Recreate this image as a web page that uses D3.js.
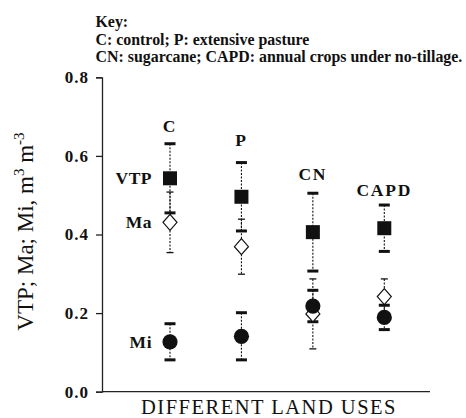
<!DOCTYPE html>
<html>
<head>
<meta charset="utf-8">
<script src="https://cdn.jsdelivr.net/npm/d3@7/dist/d3.min.js"></script>
<style>
  html, body { margin: 0; padding: 0; background: #fff; }
  svg { display: block; }
  text { font-family: "Liberation Serif", "Times New Roman", serif; fill: #111; }
</style>
</head>
<body>
<svg id="chart" width="466" height="418"></svg>
<script>
// ---- data ----
const groups = ["C", "P", "CN", "CAPD"];
const vtp    = [0.543, 0.496, 0.406, 0.416];
const vtpErr = [0.088, 0.087, 0.099, 0.059];
const ma     = [0.431, 0.369, 0.198, 0.242];
const maErr  = [0.077, 0.070, 0.089, 0.045];
const mi     = [0.127, 0.141, 0.218, 0.189];
const miErr  = [0.046, 0.060, 0.040, 0.031];
const groupLabelY = [0.662, 0.624, 0.539, 0.499];   // annotation positions (data units)
const yTicks = [0.0, 0.2, 0.4, 0.6, 0.8];
const keyLines = [
  "Key:",
  "C: control; P: extensive pasture",
  "CN: sugarcane; CAPD: annual crops under no-tillage."
];
const seriesNames = ["VTP", "Ma", "Mi"];

// ---- layout ----
const svg = d3.select("#chart");
const axisLeftX = 102, axisRightX = 430;
const y = d3.scaleLinear().domain([0, 0.8]).range([391.7, 77.3]);
const x = d3.scalePoint().domain(groups).range([170, 384.3]);

// key
svg.append("g").selectAll("text").data(keyLines).join("text")
  .attr("x", 95.5)
  .attr("y", (d, i) => 27 + i * 17.6)
  .attr("font-size", 15.9)
  .attr("font-weight", "bold")
  .text(d => d);

// y axis
const yAxis = svg.append("g")
  .attr("transform", `translate(${axisLeftX},0)`)
  .call(d3.axisLeft(y).tickValues(yTicks).tickFormat(d3.format(".1f")).tickSize(6).tickPadding(7));
yAxis.select(".domain").attr("stroke", "#222").attr("stroke-width", 1.3);
yAxis.selectAll(".tick line").attr("stroke", "#222").attr("stroke-width", 1.3);
yAxis.selectAll(".tick text")
  .attr("font-family", "Liberation Serif, serif")
  .attr("font-size", 17).attr("font-weight", "bold").attr("fill", "#111")
  .attr("letter-spacing", 1);

// x axis line
svg.append("line")
  .attr("x1", axisLeftX).attr("x2", axisRightX)
  .attr("y1", y(0)).attr("y2", y(0))
  .attr("stroke", "#222").attr("stroke-width", 1.3);

// axis titles
svg.append("text")
  .attr("x", (axisLeftX + axisRightX) / 2 + 3)
  .attr("y", 413.5)
  .attr("text-anchor", "middle")
  .attr("font-size", 20.5)
  .attr("letter-spacing", 1.5)
  .attr("fill", "#222")
  .text("DIFFERENT LAND USES");

const yt = svg.append("text")
  .attr("transform", `translate(33,${(y(0) + y(0.8)) / 2 - 3}) rotate(-90)`)
  .attr("text-anchor", "middle")
  .attr("font-size", 23)
  .attr("fill", "#222");
yt.append("tspan").text("VTP; Ma; Mi, m");
yt.append("tspan").attr("dy", -9).attr("font-size", 15).text("3");
yt.append("tspan").attr("dy", 9).text(" m");
yt.append("tspan").attr("dy", -9).attr("font-size", 15).text("-3");

// error bars
const series = [
  { vals: vtp, errs: vtpErr, thick: true },
  { vals: ma,  errs: maErr,  thick: false },
  { vals: mi,  errs: miErr,  thick: true }
];
const eg = svg.append("g");
series.forEach(s => {
  groups.forEach((g, i) => {
    const cx = x(g), lo = s.vals[i] - s.errs[i], hi = s.vals[i] + s.errs[i];
    eg.append("line")
      .attr("x1", cx).attr("x2", cx).attr("y1", y(hi)).attr("y2", y(lo))
      .attr("stroke", "#111").attr("stroke-width", 1.1).attr("stroke-dasharray", "2,1.5");
    const w = s.thick ? 5.5 : 3.5;
    const sw = s.thick ? 3 : 1.3;
    [lo, hi].forEach(v => {
      eg.append("line")
        .attr("x1", cx - w).attr("x2", cx + w).attr("y1", y(v)).attr("y2", y(v))
        .attr("stroke", "#111").attr("stroke-width", sw);
    });
  });
});

// markers
const mg = svg.append("g");
mg.selectAll("rect").data(groups).join("rect")
  .attr("x", d => x(d) - 7).attr("y", (d, i) => y(vtp[i]) - 7)
  .attr("width", 14).attr("height", 14).attr("fill", "#111");
mg.selectAll("path.ma").data(groups).join("path").attr("class", "ma")
  .attr("d", (d, i) => {
    const cx = x(d), cy = y(ma[i]);
    return `M${cx},${cy - 8}L${cx + 7},${cy}L${cx},${cy + 8}L${cx - 7},${cy}Z`;
  })
  .attr("fill", "#fff").attr("stroke", "#111").attr("stroke-width", 1.2);
mg.selectAll("circle").data(groups).join("circle")
  .attr("cx", d => x(d)).attr("cy", (d, i) => y(mi[i]))
  .attr("r", 7.6).attr("fill", "#111");

// group labels
svg.append("g").selectAll("text").data(groups).join("text")
  .attr("x", d => x(d))
  .attr("y", (d, i) => y(groupLabelY[i]))
  .attr("text-anchor", "middle")
  .attr("font-size", 17.5).attr("font-weight", "bold")
  .attr("letter-spacing", 1.8)
  .text(d => d);

// series labels at first group
const firstVals = [vtp[0], ma[0], mi[0]];
svg.append("g").selectAll("text").data(seriesNames).join("text")
  .attr("x", x(groups[0]) - 18)
  .attr("y", (d, i) => y(firstVals[i]) + 6)
  .attr("text-anchor", "end")
  .attr("font-size", 17.5).attr("font-weight", "bold")
  .attr("letter-spacing", 0.5)
  .text(d => d);
</script>
</body>
</html>
